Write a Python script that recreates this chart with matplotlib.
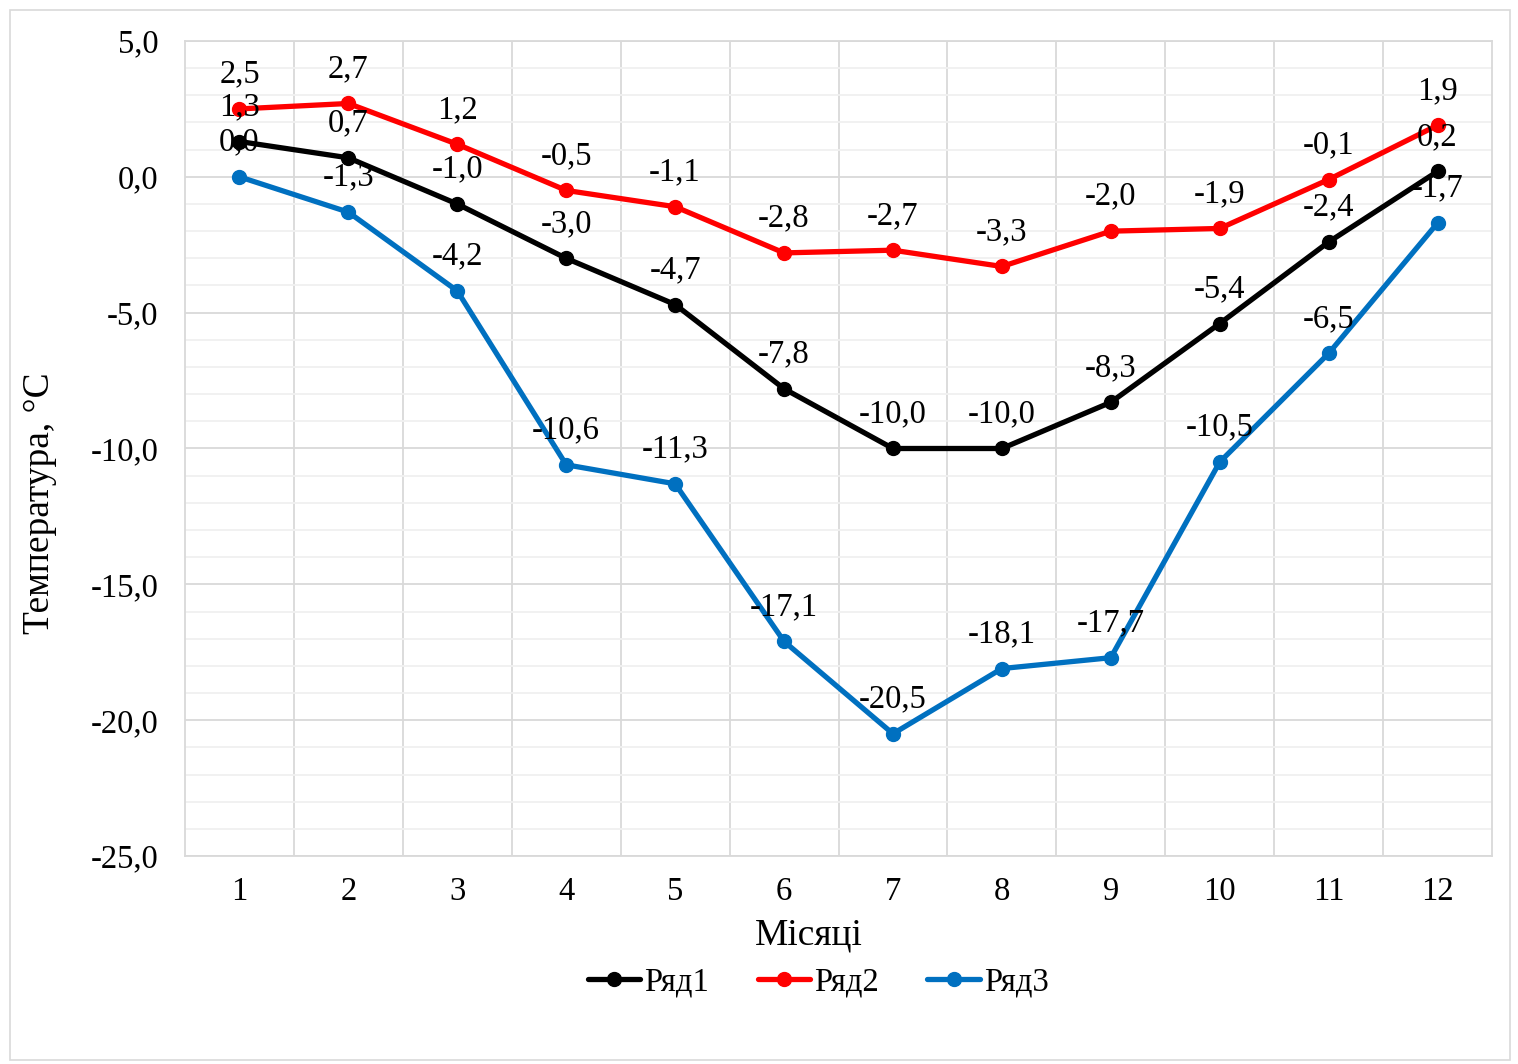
import numpy as np
import matplotlib
matplotlib.use("Agg")
import matplotlib.pyplot as plt
from matplotlib.ticker import FuncFormatter, MultipleLocator
from matplotlib.patches import Rectangle

months = [1, 2, 3, 4, 5, 6, 7, 8, 9, 10, 11, 12]
ryad1 = [1.3, 0.7, -1.0, -3.0, -4.7, -7.8, -10.0, -10.0, -8.3, -5.4, -2.4, 0.2]
ryad2 = [2.5, 2.7, 1.2, -0.5, -1.1, -2.8, -2.7, -3.3, -2.0, -1.9, -0.1, 1.9]
ryad3 = [0.0, -1.3, -4.2, -10.6, -11.3, -17.1, -20.5, -18.1, -17.7, -10.5, -6.5, -1.7]

series = [("Ряд1", ryad1, "#000000"),
          ("Ряд2", ryad2, "#FF0000"),
          ("Ряд3", ryad3, "#0070C0")]

plt.rcParams['font.family'] = ['Liberation Serif', 'DejaVu Serif']
fs = 23.5      # ticks, data labels, legend
fs_title = 27  # axis titles


def comma(v, pos=None):
    return ("%.1f" % v).replace(".", ",")


fig = plt.figure(figsize=(15.18, 10.64), dpi=100)
fig.patches.append(Rectangle((10 / 1518, 4 / 1064), 1500 / 1518, 1050 / 1064,
                             transform=fig.transFigure, fill=False,
                             edgecolor="#D9D9D9", linewidth=1.2))

ax = fig.add_axes([185 / 1518, 1 - 856 / 1064, 1307 / 1518, 815 / 1064])

x = np.array(months)
for name, vals, col in series:
    ax.plot(x, vals, color=col, linewidth=3.8, marker="o", markersize=10,
            label=name, zorder=3, solid_capstyle="round")
    for xi, v in zip(x, vals):
        ax.annotate(comma(v), (xi, v), xytext=(0, 19), textcoords="offset points",
                    ha="center", va="baseline", fontsize=fs, zorder=4)

ax.set_xlim(0.5, 12.5)
ax.set_ylim(-25, 5)
ax.set_xticks(x)
ax.set_xticklabels([str(m) for m in months])
ax.yaxis.set_major_locator(MultipleLocator(5))
ax.yaxis.set_minor_locator(MultipleLocator(1))
ax.yaxis.set_major_formatter(FuncFormatter(comma))
ax.set_xticks(np.arange(1.5, 12.5, 1), minor=True)

ax.grid(which="major", axis="y", color="#D9D9D9", linewidth=1.3, zorder=0)
ax.grid(which="minor", axis="y", color="#F0F0F0", linewidth=1.3, zorder=0)
ax.grid(which="minor", axis="x", color="#D9D9D9", linewidth=1.3, zorder=0)
ax.set_axisbelow(True)

for sp in ax.spines.values():
    sp.set_color("#D9D9D9")
    sp.set_linewidth(1.3)

ax.tick_params(axis="both", which="both", length=0, labelsize=fs)
ax.tick_params(axis="y", pad=19)
ax.tick_params(axis="x", pad=15)

ax.set_xlabel("Місяці", fontsize=fs_title)
ax.xaxis.set_label_coords(0.477, -0.076)
ax.set_ylabel("Температура, °С", fontsize=fs_title)
ax.yaxis.set_label_coords(-0.098, 0.433)

fig.legend(loc="center", bbox_to_anchor=(818 / 1518, 1 - 982 / 1064), ncol=3,
           frameon=False, fontsize=fs, handlelength=1.6, columnspacing=1.5,
           handletextpad=0.12)

fig.savefig("out.png", dpi=100)
